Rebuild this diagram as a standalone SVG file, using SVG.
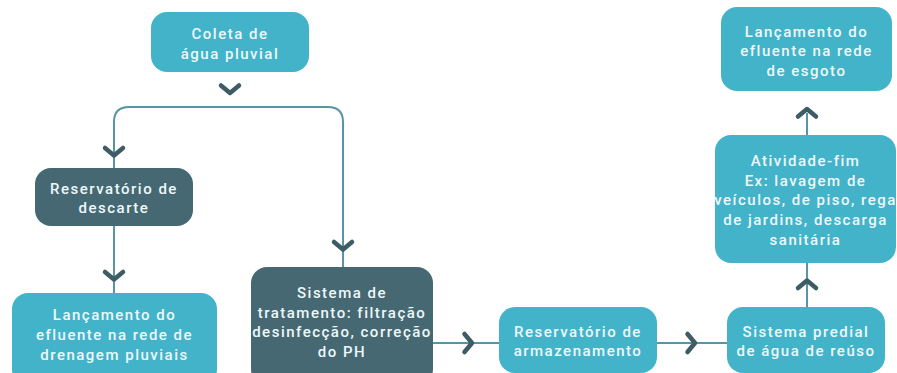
<svg xmlns="http://www.w3.org/2000/svg" xmlns:xlink="http://www.w3.org/1999/xlink" width="897" height="373" viewBox="0 0 897 373">
<style>
.light{fill:#42b3c9}
.dark{fill:#456872}
.t{font-family:Roboto,"Noto Sans",sans-serif;font-size:15px;font-weight:500;fill:#eef8fa;text-anchor:middle;letter-spacing:1.5px}
.ln{fill:none;stroke:#5795a4;stroke-width:2}
.chev{fill:none;stroke:#3d5c65;stroke-width:4.5;stroke-linecap:round;stroke-linejoin:round}
</style>
<defs>
<path id="down" class="chev" d="M-9,-4 L0,3.5 L9,-4"/>
<path id="right" class="chev" d="M-4,-9 L3.5,0 L-4,9"/>
<path id="up" class="chev" d="M-9,4 L0,-3.5 L9,4"/>
</defs>
<rect width="897" height="373" fill="#ffffff"/>
<g id="connectors">
<path class="ln" d="M114,168 V122 Q114,107 129,107 H328 Q343,107 343,122 V267"/>
<path class="ln" d="M114,226 V293"/>
<path class="ln" d="M433,343 H499"/>
<path class="ln" d="M657,343 H727"/>
<path class="ln" d="M807,307 V263"/>
<path class="ln" d="M807,135 V113"/>
<use xlink:href="#down" x="230" y="89.5"/>
<use xlink:href="#down" x="114" y="152"/>
<use xlink:href="#down" x="343" y="246"/>
<use xlink:href="#down" x="114" y="276"/>
<use xlink:href="#right" x="468.5" y="343"/>
<use xlink:href="#right" x="691.5" y="343"/>
<use xlink:href="#up" x="807" y="284"/>
<use xlink:href="#up" x="807" y="112.5"/>
</g>
<g id="coleta">
<rect class="light" x="151" y="12" width="158" height="60" rx="16"/>
<text class="t" x="230" y="39">Coleta de</text>
<text class="t" x="230" y="59">água pluvial</text>
</g>
<g id="descarte">
<rect class="dark" x="35" y="168" width="158" height="58" rx="16"/>
<text class="t" x="114" y="194">Reservatório de</text>
<text class="t" x="114" y="213">descarte</text>
</g>
<g id="lancamento-pluviais">
<rect class="light" x="12" y="293" width="205" height="92" rx="16"/>
<text class="t" x="114.5" y="320">Lançamento do</text>
<text class="t" x="114.5" y="340">efluente na rede de</text>
<text class="t" x="114.5" y="360">drenagem pluviais</text>
</g>
<g id="tratamento">
<rect class="dark" x="251" y="267" width="182" height="118" rx="16"/>
<text class="t" x="342" y="298">Sistema de</text>
<text class="t" x="342" y="318">tratamento: filtração</text>
<text class="t" x="342" y="337">desinfecção, correção</text>
<text class="t" x="342" y="357">do PH</text>
</g>
<g id="armazenamento">
<rect class="light" x="499" y="307" width="158" height="66" rx="16"/>
<text class="t" x="578" y="337">Reservatório de</text>
<text class="t" x="578" y="356">armazenamento</text>
</g>
<g id="predial">
<rect class="light" x="727" y="307" width="158" height="66" rx="16"/>
<text class="t" x="806" y="337">Sistema predial</text>
<text class="t" x="806" y="356">de água de reúso</text>
</g>
<g id="atividade">
<rect class="light" x="715" y="135" width="181" height="128" rx="16"/>
<text class="t" x="805.5" y="166">Atividade-fim</text>
<text class="t" x="805.5" y="186">Ex: lavagem de</text>
<text class="t" x="805.5" y="205">veículos, de piso, rega</text>
<text class="t" x="805.5" y="225">de jardins, descarga</text>
<text class="t" x="805.5" y="245">sanitária</text>
</g>
<g id="esgoto">
<rect class="light" x="721" y="7" width="171" height="84" rx="16"/>
<text class="t" x="806.5" y="37">Lançamento do</text>
<text class="t" x="806.5" y="56">efluente na rede</text>
<text class="t" x="806.5" y="76">de esgoto</text>
</g>
</svg>
